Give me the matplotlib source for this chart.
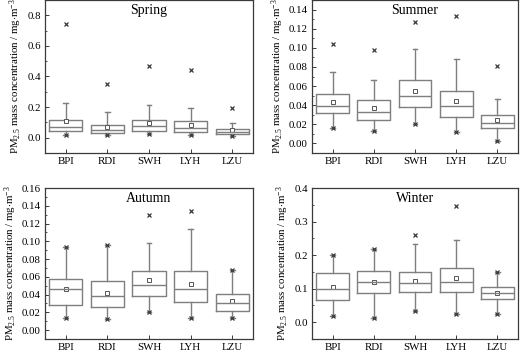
import matplotlib
matplotlib.use("Agg")
import matplotlib.pyplot as plt
from matplotlib.ticker import MultipleLocator

plt.rcParams['font.family'] = 'serif'
plt.rcParams['font.serif'] = ['Liberation Serif', 'DejaVu Serif']
plt.rcParams['mathtext.fontset'] = 'custom'
plt.rcParams['mathtext.rm'] = 'Liberation Serif'
plt.rcParams['mathtext.it'] = 'Liberation Serif:italic'

sites = ["BPI", "RDI", "SWH", "LYH", "LZU"]

# Spring
spring_wlo = [0.018, 0.018, 0.024, 0.020, 0.012]
spring_q1 = [0.042, 0.029, 0.046, 0.035, 0.024]
spring_med = [0.068, 0.049, 0.075, 0.066, 0.040]
spring_q3 = [0.115, 0.082, 0.115, 0.108, 0.055]
spring_whi = [0.225, 0.166, 0.214, 0.192, 0.095]
spring_mean = [0.110, 0.071, 0.095, 0.080, 0.050]
spring_min = [0.015, 0.015, 0.022, 0.018, 0.011]
spring_max = [0.744, 0.349, 0.470, 0.440, 0.192]

# Summer
summer_wlo = [0.0161, 0.0133, 0.0207, 0.0119, 0.0025]
summer_q1 = [0.0319, 0.0249, 0.0382, 0.0277, 0.0165]
summer_med = [0.0392, 0.0333, 0.0500, 0.0392, 0.0217]
summer_q3 = [0.0518, 0.0459, 0.0665, 0.0553, 0.0294]
summer_whi = [0.0749, 0.0665, 0.0984, 0.0886, 0.0462]
summer_mean = [0.0438, 0.0371, 0.0553, 0.0441, 0.0242]
summer_min = [0.0161, 0.0133, 0.0207, 0.0119, 0.0025]
summer_max = [0.1036, 0.0973, 0.1267, 0.1330, 0.0809]

# Autumn
autumn_wlo = [0.0139, 0.0120, 0.0203, 0.0135, 0.0135]
autumn_q1 = [0.0285, 0.0255, 0.0379, 0.0312, 0.0218]
autumn_med = [0.0462, 0.0387, 0.0507, 0.0462, 0.0304]
autumn_q3 = [0.0575, 0.0552, 0.0669, 0.0669, 0.0406]
autumn_whi = [0.0939, 0.0958, 0.0984, 0.1134, 0.0676]
autumn_mean = [0.0462, 0.0420, 0.0560, 0.0515, 0.0323]
autumn_min = [0.0139, 0.0120, 0.0203, 0.0135, 0.0135]
autumn_max = [0.0939, 0.0958, 0.1300, 0.1345, 0.0676]

# Winter
winter_wlo = [0.0178, 0.0120, 0.0327, 0.0248, 0.0257]
winter_q1 = [0.0673, 0.0880, 0.0890, 0.0890, 0.0680]
winter_med = [0.0980, 0.1210, 0.1170, 0.1190, 0.0860]
winter_q3 = [0.1455, 0.1515, 0.1495, 0.1620, 0.1060]
winter_whi = [0.2000, 0.2180, 0.2337, 0.2465, 0.1485]
winter_mean = [0.1050, 0.1200, 0.1220, 0.1320, 0.0870]
winter_min = [0.0178, 0.0120, 0.0327, 0.0248, 0.0257]
winter_max = [0.2000, 0.2180, 0.2590, 0.3455, 0.1485]

seasons = [
    ("Spring", spring_wlo, spring_q1, spring_med, spring_q3, spring_whi, spring_mean, spring_min, spring_max,
     (-0.1, 0.9), 0.2, 0.1, "%.1f"),
    ("Summer", summer_wlo, summer_q1, summer_med, summer_q3, summer_whi, summer_mean, summer_min, summer_max,
     (-0.01, 0.15), 0.02, 0.01, "%.2f"),
    ("Autumn", autumn_wlo, autumn_q1, autumn_med, autumn_q3, autumn_whi, autumn_mean, autumn_min, autumn_max,
     (-0.01, 0.16), 0.02, 0.01, "%.2f"),
    ("Winter", winter_wlo, winter_q1, winter_med, winter_q3, winter_whi, winter_mean, winter_min, winter_max,
     (-0.05, 0.4), 0.1, 0.05, "%.1f"),
]

# axes boxes in pixels (left, top, right, bottom)
boxes_px = [(45, 0, 253, 153), (312, 0, 518, 153), (45, 188, 253, 339), (312, 188, 518, 339)]
W, H = 520, 351
positions = [(l / W, 1 - b / H, (r - l) / W, (b - t) / H) for l, t, r, b in boxes_px]

fig = plt.figure(figsize=(5.2, 3.51), dpi=100)
gray = "#7f7f7f"
dark = "#3a3a3a"

for (name, wlo, q1, med, q3, whi, mean, mn, mx, ylim, major, minor, fmt), pos in zip(seasons, positions):
    ax = fig.add_axes(pos)
    stats = []
    for i in range(len(sites)):
        stats.append(dict(label=sites[i], whislo=wlo[i], q1=q1[i], med=med[i], q3=q3[i],
                          whishi=whi[i], fliers=[]))
    x = list(range(1, len(sites) + 1))
    ax.bxp(stats, positions=x, widths=0.8, showfliers=False,
           boxprops=dict(color=gray, linewidth=1.0),
           whiskerprops=dict(color=gray, linewidth=1.0),
           capprops=dict(color=gray, linewidth=1.0),
           medianprops=dict(color=gray, linewidth=1.0),
           capwidths=0.12)
    ax.plot(x, mean, ls="none", marker="s", ms=3.2, mfc="white", mec="#555555", mew=0.7)
    ax.plot(x, mn, ls="none", marker="x", ms=3.0, color=dark, mew=0.9)
    ax.plot(x, mx, ls="none", marker="x", ms=3.0, color=dark, mew=0.9)
    ax.set_xlim(0.5, 5.5)
    ax.set_ylim(*ylim)
    ax.yaxis.set_major_locator(MultipleLocator(major))
    ax.yaxis.set_minor_locator(MultipleLocator(minor))
    ax.yaxis.set_major_formatter(plt.FormatStrFormatter(fmt))
    ax.set_xticks(x)
    ax.set_xticklabels(sites)
    ax.tick_params(axis="both", labelsize=7.8, direction="in", length=3, width=0.7, color=dark, pad=3)
    ax.tick_params(axis="y", which="minor", direction="in", length=1.6, width=0.6, color=dark)
    for s in ax.spines.values():
        s.set_color(dark)
        s.set_linewidth(0.9)
    ax.text(0.5, 0.93, name, transform=ax.transAxes, ha="center", va="center", fontsize=10)
    ax.set_ylabel(r"PM$_{2.5}$ mass concentration / mg$\cdot$m$^{-3}$", fontsize=7.8, labelpad=2)

fig.savefig("out.png", dpi=100)
